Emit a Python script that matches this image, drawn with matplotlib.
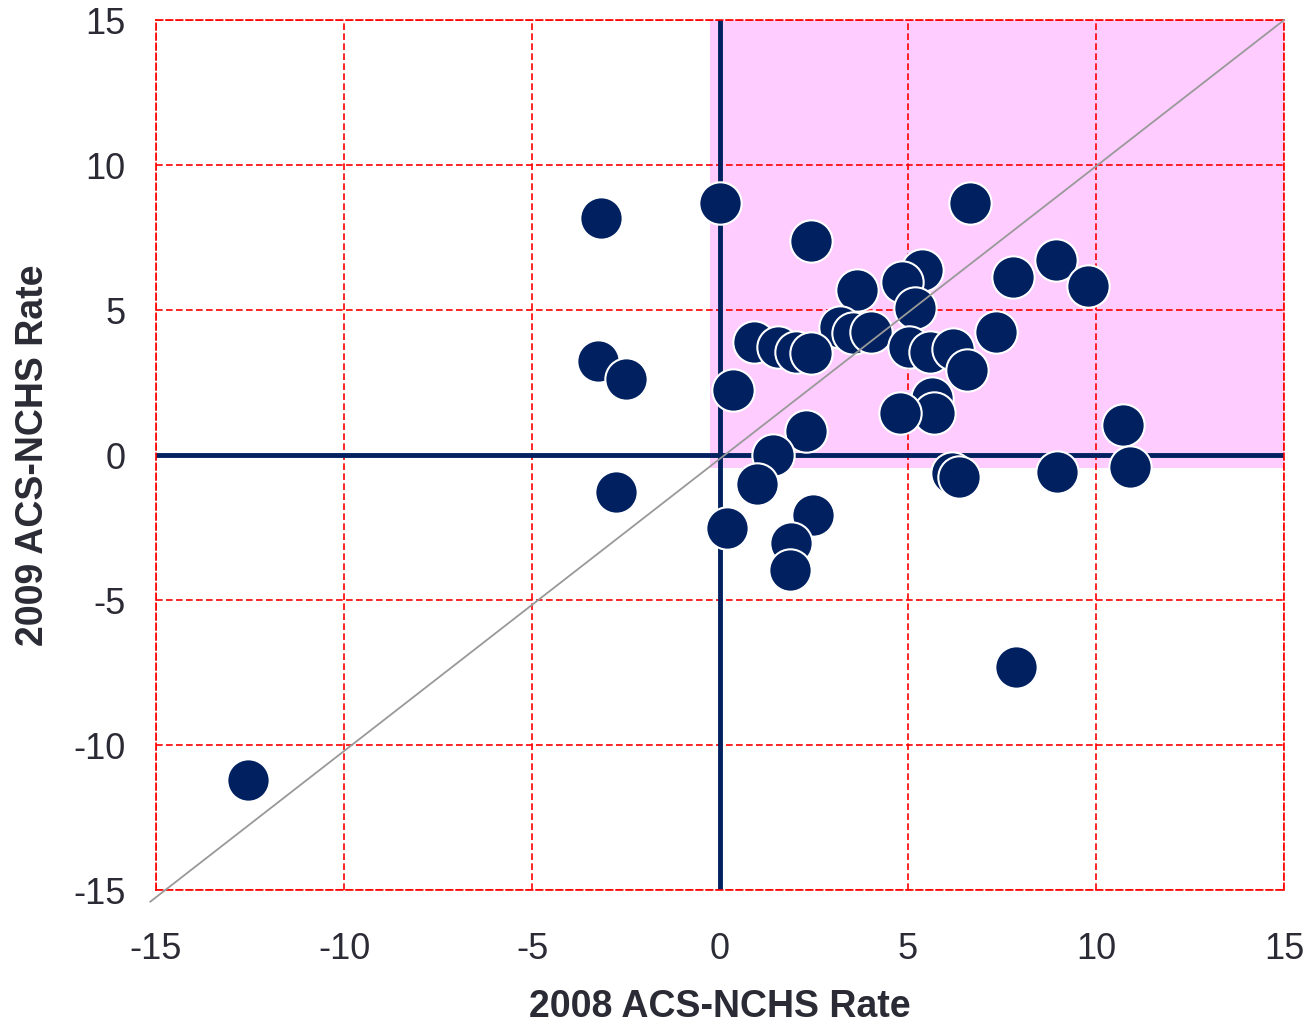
import numpy as np
import matplotlib.pyplot as plt
from matplotlib.patches import Rectangle

plt.rcParams['font.family'] = ['Liberation Sans', 'DejaVu Sans']
plt.rcParams['axes.unicode_minus'] = False

# Tasas ACS-NCHS por estado
rate_2008 = [0.0, 2.42, 6.65, 5.37, 4.84, 3.64, 7.79, 5.19, 3.19, 3.54,
             4.02, 0.9, 1.54, 2.02, 2.42, 5.03, 5.59, 6.2, 7.34, 6.57,
             5.64, 5.69, 4.79, 0.35, 2.29, 1.41, 0.98, 6.17, 6.36, 2.47,
             -3.16, -3.24, -2.49, -2.77, 0.19, 1.89, 1.86, 7.87, -12.55,
             8.94, 9.79, 10.72, 10.9, 8.96]
rate_2009 = [8.69, 7.38, 8.69, 6.38, 5.97, 5.69, 6.14, 5.07, 4.41, 4.2,
             4.24, 3.9, 3.72, 3.55, 3.52, 3.72, 3.55, 3.66, 4.24, 2.93,
             1.97, 1.45, 1.45, 2.24, 0.83, 0.0, -1.0, -0.62, -0.76, -2.07,
             8.17, 3.24, 2.62, -1.28, -2.52, -3.03, -3.97, -7.31, -11.21,
             6.72, 5.83, 1.03, -0.41, -0.59]
ticks = [-15, -10, -5, 0, 5, 10, 15]

navy = '#002060'
fig = plt.figure(figsize=(13.12, 10.28), dpi=100)
ax = fig.add_axes([0.1189, 0.1342, 0.8598, 0.8463])

ax.add_patch(Rectangle((-0.27, -0.45), 15.27, 15.45, facecolor='#ffccff',
                       edgecolor='none', zorder=0))
ax.set_xlim(-15, 15)
ax.set_ylim(-15, 15)
ax.set_xticks(ticks)
ax.set_yticks(ticks)
ax.grid(True, color='#ff0000', linestyle=(0, (4, 2)), linewidth=1.2, zorder=1)
ax.set_axisbelow(True)
for s in ax.spines.values():
    s.set_color('#ff0000')
    s.set_linestyle((0, (4, 2)))
    s.set_linewidth(1.2)
ax.tick_params(length=0, labelsize=26, labelcolor='#2b2b35')
ax.tick_params(axis='x', pad=30)
ax.tick_params(axis='y', pad=22)

ax.axhline(0, color=navy, linewidth=3.5, zorder=2)
ax.axvline(0, color=navy, linewidth=3.5, zorder=2)

ax.scatter(rate_2008, rate_2009, s=930, color=navy, edgecolors='white',
           linewidths=1.5, zorder=3)
ax.plot([-15.15, 15], [-15.4, 15], color='#999999', linewidth=1.3, zorder=4,
        clip_on=False)

ax.set_xlabel('2008 ACS-NCHS Rate', fontsize=27, fontweight='bold',
              color='#2b2b35', labelpad=16)
ax.set_ylabel('2009 ACS-NCHS Rate', fontsize=27, fontweight='bold',
              color='#2b2b35', labelpad=16)

fig.savefig('out.png', dpi=100)
